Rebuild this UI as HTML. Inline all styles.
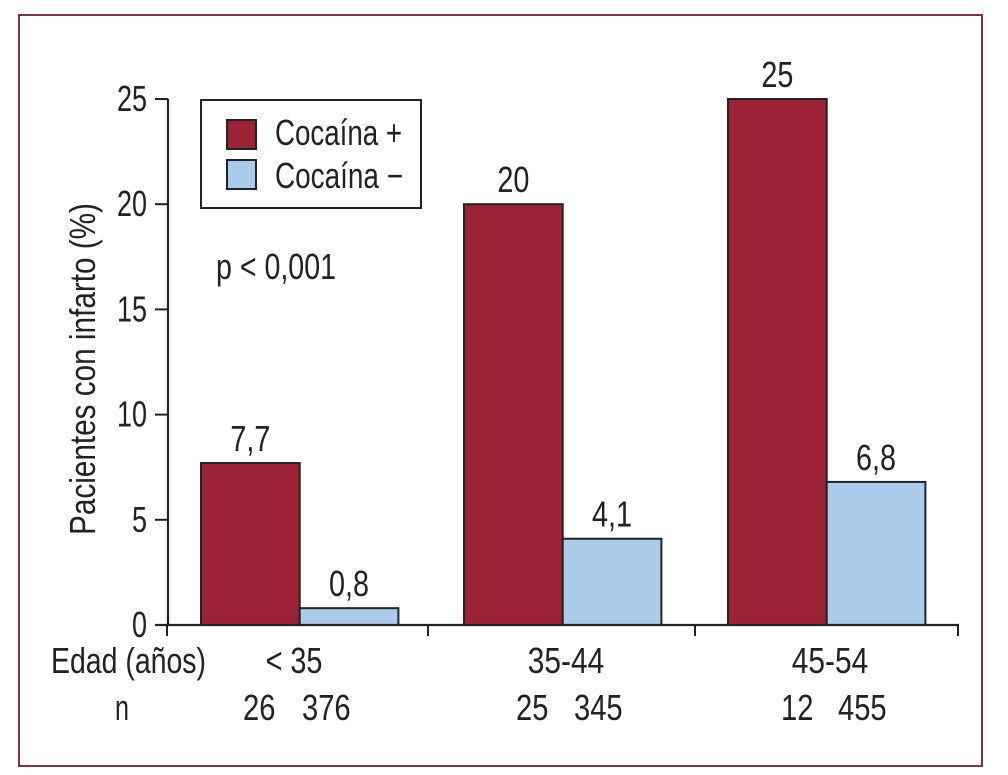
<!DOCTYPE html>
<html lang="es">
<head>
<meta charset="utf-8">
<title>Pacientes con infarto por edad y cocaína</title>
<style>
html,body{margin:0;padding:0;background:#fff;width:1008px;height:775px;overflow:hidden}
svg{display:block}
text{font-family:"Liberation Sans",sans-serif;fill:#222;font-size:36px}
</style>
</head>
<body>
<svg id="chart" width="1008" height="775" viewBox="0 0 1008 775" xmlns="http://www.w3.org/2000/svg">
  <rect x="0" y="0" width="1008" height="775" fill="#fff"/>
  <rect x="19" y="15" width="963" height="751" fill="#fff" stroke="#7d3349" stroke-width="2"/>

  <g id="bars"></g>
  <g id="axes"></g>
  <g id="labels"></g>

  <g>
    <rect x="201" y="100" width="220" height="108" fill="#fff" stroke="#222" stroke-width="2"/>
    <rect x="227" y="120" width="29" height="29" fill="#9b2335" stroke="#222" stroke-width="2"/>
    <rect x="227" y="160" width="29" height="29" fill="#aaccea" stroke="#222" stroke-width="2"/>
    <text x="275" y="145" textLength="127" lengthAdjust="spacingAndGlyphs">Cocaína +</text>
    <text x="275" y="188" textLength="128" lengthAdjust="spacingAndGlyphs">Cocaína −</text>
  </g>

  <text x="216" y="279" textLength="120" lengthAdjust="spacingAndGlyphs">p &lt; 0,001</text>
  <text transform="translate(95,535) rotate(-90)" textLength="332" lengthAdjust="spacingAndGlyphs">Pacientes con infarto (%)</text>
  <text x="51" y="673" textLength="155" lengthAdjust="spacingAndGlyphs">Edad (años)</text>
  <text x="115" y="720" textLength="14" lengthAdjust="spacingAndGlyphs">n</text>
</svg>
<script>
const categories = ["< 35", "35-44", "45-54"];
const cocainePositive = [7.7, 20, 25];
const cocaineNegative = [0.8, 4.1, 6.8];
const positiveLabels = ["7,7", "20", "25"];
const negativeLabels = ["0,8", "4,1", "6,8"];
const nPositive = ["26", "25", "12"];
const nNegative = ["376", "345", "455"];
const yTicks = [0, 5, 10, 15, 20, 25];

const NS = "http://www.w3.org/2000/svg";
const Y0 = 625, PX_PER_UNIT = 21.04;
const GROUP_LEFT = [201, 464, 728];
const GROUP_BOUNDS = [167, 428, 695, 958];
const CATEGORY_CENTER = [294, 566, 830];
const N_POS_LEFT = [243, 516, 781];
const N_NEG_LEFT = [302, 574, 838];
const BAR_W = 98.7;
const yScale = v => Y0 - v * PX_PER_UNIT;
const xBar = (g, s) => GROUP_LEFT[g] + s * BAR_W;

const barsG = document.getElementById("bars");
const axesG = document.getElementById("axes");
const labelsG = document.getElementById("labels");

function make(parent, tag, attrs) {
  const el = document.createElementNS(NS, tag);
  for (const k in attrs) el.setAttribute(k, attrs[k]);
  parent.appendChild(el);
  return el;
}
function label(parent, str, x, y, anchor, sx) {
  const el = make(parent, "text", {
    transform: "translate(" + x + "," + y + ") scale(" + sx + ",1)",
    "text-anchor": anchor
  });
  el.textContent = str;
  return el;
}

categories.forEach((c, g) => {
  const rp = make(barsG, "rect", {
    x: xBar(g, 0), y: yScale(cocainePositive[g]), width: BAR_W,
    height: Y0 - yScale(cocainePositive[g]),
    fill: "#9b2335", stroke: "#222", "stroke-width": 2
  });
  
  

  const rn = make(barsG, "rect", {
    x: xBar(g, 1), y: yScale(cocaineNegative[g]), width: BAR_W,
    height: Y0 - yScale(cocaineNegative[g]),
    fill: "#aaccea", stroke: "#222", "stroke-width": 2
  });
  
  

  const lp = label(labelsG, positiveLabels[g], xBar(g, 0) + BAR_W / 2, yScale(cocainePositive[g]) - 12, "middle", 0.8);
  
  

  const ln = label(labelsG, negativeLabels[g], xBar(g, 1) + BAR_W / 2, yScale(cocaineNegative[g]) - 12, "middle", 0.8);
  
  

  const cat = label(labelsG, c, CATEGORY_CENTER[g], 673, "middle", g === 0 ? 0.8 : 0.83);
  
  

  const np = label(labelsG, nPositive[g], N_POS_LEFT[g], 720, "start", 0.81);
  
  

  const nn = label(labelsG, nNegative[g], N_NEG_LEFT[g], 720, "start", 0.81);
  
  
});

const yAxis = make(axesG, "line", { x1: 168, x2: 168, y1: yScale(25), y2: Y0, stroke: "#222", "stroke-width": 2.2 });



const xAxis = make(axesG, "line", { x1: 155, x2: 959, y1: Y0, y2: Y0, stroke: "#222", "stroke-width": 2.2 });



yTicks.forEach(t => {
  const tick = make(axesG, "line", { x1: 155, x2: 168, y1: yScale(t), y2: yScale(t), stroke: "#222", "stroke-width": 2 });
  
  

  const tl = label(labelsG, String(t), 147, yScale(t) + 12, "end", 0.75);
  
  
});

GROUP_BOUNDS.forEach(x => {
  const tick = make(axesG, "line", { x1: x, x2: x, y1: Y0, y2: 636, stroke: "#222", "stroke-width": 2 });
  
  
});
</script>
</body>
</html>
